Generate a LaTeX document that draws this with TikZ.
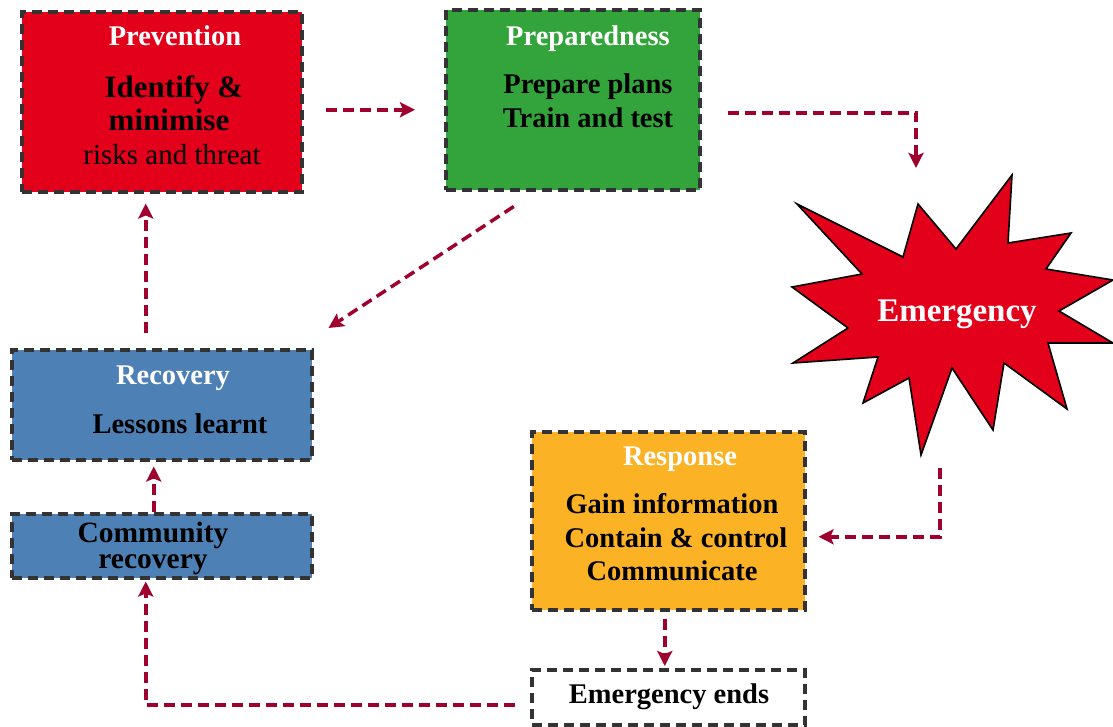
\documentclass[tikz,border=0pt]{standalone}
\usepackage{fontspec}
\setmainfont{Liberation Serif}
\usetikzlibrary{arrows.meta,calc}
\definecolor{cred}{HTML}{E2001A}
\definecolor{cgreen}{HTML}{33A43B}
\definecolor{cblue}{HTML}{4D80B5}
\definecolor{corange}{HTML}{FBB224}
\definecolor{carrow}{HTML}{A0002E}
\definecolor{cborder}{HTML}{333333}
\begin{document}
\begin{tikzpicture}[x=1pt,y=-1pt,
  box/.style={draw=cborder, line width=3.5pt, dash pattern=on 10pt off 6pt, anchor=north west, inner sep=0pt, rectangle},
  conn/.style={draw=carrow, line width=3.5pt, dash pattern=on 11pt off 6pt, -{Stealth[length=15pt,width=15pt,inset=3pt]}},
  ttl/.style={anchor=base, inner sep=0pt, text=white, font=\fontsize{28.5}{33}\selectfont\bfseries},
  bd/.style={anchor=base, inner sep=0pt, text=black, font=\fontsize{28.5}{33}\selectfont\bfseries},
  bdl/.style={anchor=base, inner sep=0pt, text=black, font=\fontsize{31}{33}\selectfont\bfseries},
  rg/.style={anchor=base, inner sep=0pt, text=black, font=\fontsize{29}{33}\selectfont}
]
\useasboundingbox (0,0) rectangle (1113,726);

% boxes
\node[box, fill=cred, minimum width=280pt, minimum height=180pt] (prev) at (20,10) {};
\node[box, fill=cgreen, minimum width=254pt, minimum height=180pt] (prep) at (444,8) {};
\node[box, fill=cblue, minimum width=300pt, minimum height=110pt] (rec) at (10,348) {};
\node[box, fill=cblue, minimum width=300pt, minimum height=64pt] (comm) at (10,512) {};
\node[box, fill=corange, minimum width=273pt, minimum height=178pt] (resp) at (530,430) {};
\node[box, fill=white, minimum width=273pt, minimum height=55pt] (ends) at (530,668) {};

% star
\coordinate (emgc) at (955,310);
\draw[fill=cred, line width=1.6pt, line join=miter]
 (797,204) -- (903,257) -- (918,204) -- (956,249) -- (1012,175) -- (1008,243)
 -- (1071,233) -- (1046,269) -- (1113,280) -- (1059,311) -- (1113,343) -- (1048,343)
 -- (1067,409) -- (1004,363) -- (993,430) -- (952,368) -- (921,455) -- (909,378)
 -- (863,403) -- (878,357) -- (793,363) -- (848,328) -- (792,287) -- (862,274) -- cycle;
\node[anchor=base, inner sep=0pt, text=white, font=\fontsize{33}{36}\selectfont\bfseries] (emg) at (957,321) {Emergency};

% texts
\node[ttl] (prevT) at (175,45) {Prevention};
\node[bdl] (prevA) at (174,97) {Identify \&};
\node[bdl] (prevB) at (169,130) {minimise};
\node[rg] (prevC) at (172,164) {risks and threat};

\node[ttl] (prepT) at (588,45) {Preparedness};
\node[bd] (prepA) at (588,93) {Prepare plans};
\node[bd] (prepB) at (588,127) {Train and test};

\node[ttl] (recT) at (173,384) {Recovery};
\node[bd] (recA) at (180,433) {Lessons learnt};

\node[anchor=center, inner sep=0pt, align=center, text=black, font=\fontsize{29.5}{26}\selectfont\bfseries] (commT) at (153,548) {Community\\recovery};

\node[ttl] (respT) at (680,465) {Response};
\node[bd] (respA) at (672,513) {Gain information};
\node[bd] (respB) at (676,547) {Contain \& control};
\node[bd] (respC) at (672,580) {Communicate};

\node[bd] (endsT) at (669,703) {Emergency ends};

% connectors
\draw[conn] ([shift={(22,8)}]prev.east) -- ([shift={(-29,10)}]prep.west);
\draw[conn] ([shift={(26,13)}]prep.east) -| ([shift={(-39,-142)}]emgc);
\draw[conn] ([shift={(-15,158)}]emgc) |- ([shift={(12,16)}]resp.east);
\draw[conn] ([shift={(-3.5,7)}]resp.south) -- ([shift={(-3.5,-2)}]ends.north);
\draw[conn] ([shift={(-15,7.5)}]ends.west) -| ([shift={(-16,2)}]comm.south);
\draw[conn] ([shift={(-8,0)}]comm.north) -- ([shift={(-8,5)}]rec.south);
\draw[conn] ([shift={(-16,-15)}]rec.north) -- ([shift={(-16,10)}]prev.south);
\draw[conn] ([shift={(-59,15)}]prep.south) -- ([shift={(15,-20)}]rec.north east);
\end{tikzpicture}
\end{document}
